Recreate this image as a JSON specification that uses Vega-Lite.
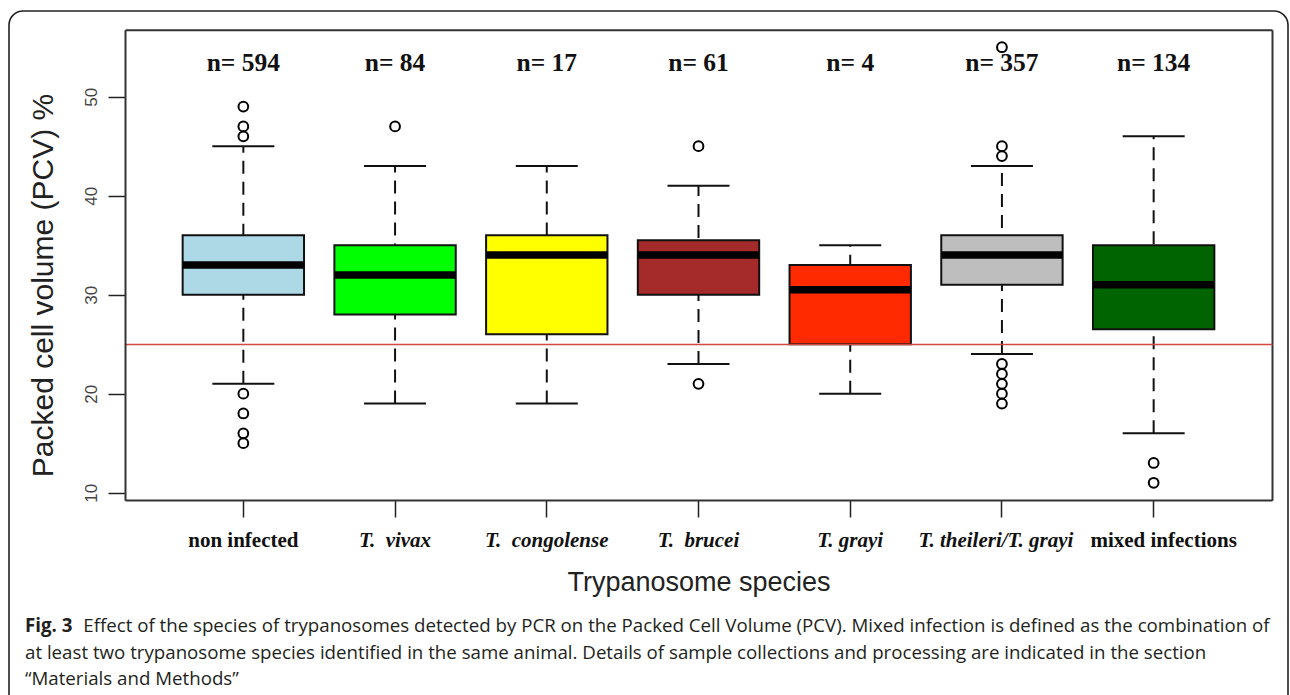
{
  "$schema": "https://vega.github.io/schema/vega-lite/v6.json",
  "width": 1279,
  "height": 709,
  "autosize": {"type": "none"},
  "padding": {"left": 9, "top": 11, "right": 2, "bottom": -25},
  "background": "white",
  "config": {
    "view": {"stroke": "#222", "strokeWidth": 1.6, "cornerRadius": 14},
    "font": "Liberation Sans"
  },
  "title": {
    "text": "Fig. 3",
    "subtitle": [
      "\u200b\u00a0\u00a0\u00a0\u00a0\u00a0\u00a0\u00a0\u00a0\u00a0\u00a0\u00a0\u00a0Effect of the species of trypanosomes detected by PCR on the Packed Cell Volume (PCV). Mixed infection is defined as the combination of",
      "at least two trypanosome species identified in the same animal. Details of sample collections and processing are indicated in the section",
      "\u201cMaterials and Methods\u201d"
    ],
    "orient": "bottom",
    "anchor": "start",
    "frame": "group",
    "offset": -103,
    "dx": 16,
    "font": "Open Sans",
    "fontSize": 18.7,
    "fontWeight": "bold",
    "color": "#231f20",
    "subtitleFont": "Open Sans",
    "subtitleFontSize": 18.7,
    "subtitleFontWeight": "normal",
    "subtitleColor": "#231f20",
    "subtitlePadding": -18.7,
    "subtitleLineHeight": 26.5
  },
  "datasets": {
    "boxes": [
      {"cat": "non infected", "lo": 21, "q1": 30, "med": 33, "q3": 36, "hi": 45, "nlabel": "n= 594"},
      {"cat": "T.\u00a0 vivax", "lo": 19, "q1": 28, "med": 32, "q3": 35, "hi": 43, "nlabel": "n= 84"},
      {"cat": "T.\u00a0 congolense", "lo": 19, "q1": 26, "med": 34, "q3": 36, "hi": 43, "nlabel": "n= 17"},
      {"cat": "T.\u00a0 brucei", "lo": 23, "q1": 30, "med": 34, "q3": 35.5, "hi": 41, "nlabel": "n= 61"},
      {"cat": "T. grayi", "lo": 20, "q1": 25, "med": 30.5, "q3": 33, "hi": 35, "nlabel": "n= 4"},
      {"cat": "T. theileri/T. grayi", "lo": 24, "q1": 31, "med": 34, "q3": 36, "hi": 43, "nlabel": "n= 357"},
      {"cat": "mixed infections", "lo": 16, "q1": 26.5, "med": 31, "q3": 35, "hi": 46, "nlabel": "n= 134"}
    ],
    "outliers": [
      {"cat": "non infected", "v": 49},
      {"cat": "non infected", "v": 47},
      {"cat": "non infected", "v": 46},
      {"cat": "non infected", "v": 20},
      {"cat": "non infected", "v": 18},
      {"cat": "non infected", "v": 16},
      {"cat": "non infected", "v": 15},
      {"cat": "T.\u00a0 vivax", "v": 47},
      {"cat": "T.\u00a0 brucei", "v": 45},
      {"cat": "T.\u00a0 brucei", "v": 21},
      {"cat": "T. theileri/T. grayi", "v": 55},
      {"cat": "T. theileri/T. grayi", "v": 45},
      {"cat": "T. theileri/T. grayi", "v": 44},
      {"cat": "T. theileri/T. grayi", "v": 23},
      {"cat": "T. theileri/T. grayi", "v": 22},
      {"cat": "T. theileri/T. grayi", "v": 21},
      {"cat": "T. theileri/T. grayi", "v": 20},
      {"cat": "T. theileri/T. grayi", "v": 19},
      {"cat": "mixed infections", "v": 13},
      {"cat": "mixed infections", "v": 11}
    ]
  },
  "resolve": {"axis": {"x": "independent", "y": "independent"}},
  "layer": [
    {
      "data": {"name": "boxes"},
      "mark": {"type": "rule", "strokeDash": [13, 8], "strokeWidth": 2, "color": "#111"},
      "encoding": {
        "x": {
          "field": "cat",
          "type": "nominal",
          "scale": {
            "domain": ["non infected", "T.\u00a0 vivax", "T.\u00a0 congolense", "T.\u00a0 brucei", "T. grayi", "T. theileri/T. grayi", "mixed infections"],
            "range": [116, 1263],
            "paddingInner": 0.2,
            "paddingOuter": 0.38
          },
          "axis": {
            "orient": "bottom",
            "offset": -220,
            "title": "Trypanosome species",
            "titleFont": "Liberation Sans",
            "titleFontSize": 27,
            "titleFontWeight": "normal",
            "titleColor": "#222",
            "titlePadding": 19.5,
            "labelFont": "Liberation Serif",
            "labelFontSize": 21,
            "labelFontWeight": "bold",
            "labelFontStyle": {"condition": {"test": "indexof(datum.value, 'T.') === 0", "value": "italic"}, "value": "normal"},
            "labelOffset": {"condition": [
              {"test": "datum.value === 'T. theileri/T. grayi'", "value": -6},
              {"test": "datum.value === 'mixed infections'", "value": 10}
            ], "value": 0},
            "labelColor": "#111",
            "labelAngle": 0,
            "labelBaseline": "alphabetic",
            "labelPadding": 29,
            "labelOverlap": false,
            "tickSize": 17,
            "tickWidth": 1.5,
            "tickColor": "#222",
            "domainColor": "#333",
            "domainWidth": 2
          }
        },
        "y": {
          "field": "lo",
          "type": "quantitative",
          "scale": {"domain": [9.24, 56.76], "range": [489.2, 18.8], "nice": false, "zero": false},
          "axis": {
            "orient": "left",
            "offset": -116,
            "values": [10, 20, 25, 30, 40, 50],
            "grid": true,
            "gridWidth": 1.6,
            "gridColor": {"condition": {"test": "datum.value === 25", "value": "#d2483f"}, "value": "transparent"},
            "tickOpacity": {"condition": {"test": "datum.value === 25", "value": 0}, "value": 1},
            "labelOpacity": {"condition": {"test": "datum.value === 25", "value": 0}, "value": 1},
            "zindex": 1,
            "title": "Packed cell volume (PCV) %",
            "titleFont": "Liberation Sans",
            "titleFontSize": 30,
            "titleFontWeight": "normal",
            "titleColor": "#222",
            "titlePadding": 24,
            "titleY": 274,
            "labelFont": "Liberation Sans",
            "labelFontSize": 17,
            "labelColor": "#444",
            "labelAngle": -90,
            "labelAlign": "center",
            "labelBaseline": "alphabetic",
            "labelPadding": 12,
            "labelFlush": false,
            "labelOverlap": false,
            "tickSize": 17,
            "tickWidth": 1.5,
            "tickColor": "#222",
            "domainColor": "#333",
            "domainWidth": 2
          }
        },
        "y2": {"field": "hi"}
      }
    },
    {
      "data": {"name": "boxes"},
      "mark": {"type": "tick", "size": 62, "thickness": 2, "color": "#111", "opacity": 1},
      "encoding": {
        "x": {
          "field": "cat",
          "type": "nominal",
          "axis": {"orient": "top", "offset": -18.8, "labels": false, "ticks": false, "title": null, "domain": true, "domainColor": "#333", "domainWidth": 2}
        },
        "y": {
          "field": "hi",
          "type": "quantitative",
          "axis": {"orient": "right", "offset": -16, "labels": false, "ticks": false, "title": null, "grid": false, "domain": true, "domainColor": "#333", "domainWidth": 2}
        }
      }
    },
    {
      "data": {"name": "boxes"},
      "mark": {"type": "tick", "size": 62, "thickness": 2, "color": "#111", "opacity": 1},
      "encoding": {
        "x": {"field": "cat", "type": "nominal", "axis": null},
        "y": {"field": "lo", "type": "quantitative", "axis": null}
      }
    },
    {
      "data": {"name": "boxes"},
      "mark": {"type": "bar", "stroke": "#111", "strokeWidth": 2, "opacity": 1},
      "encoding": {
        "x": {"field": "cat", "type": "nominal", "axis": null},
        "y": {"field": "q1", "type": "quantitative", "axis": null},
        "y2": {"field": "q3"},
        "color": {
          "field": "cat",
          "type": "nominal",
          "legend": null,
          "scale": {
            "domain": ["non infected", "T.\u00a0 vivax", "T.\u00a0 congolense", "T.\u00a0 brucei", "T. grayi", "T. theileri/T. grayi", "mixed infections"],
            "range": ["#add8e6", "#00ff00", "#ffff00", "#a52a2a", "#ff2a00", "#bebebe", "#006400"]
          }
        }
      }
    },
    {
      "data": {"name": "boxes"},
      "mark": {"type": "tick", "size": 121, "thickness": 7.5, "color": "#000", "opacity": 1},
      "encoding": {
        "x": {"field": "cat", "type": "nominal", "axis": null},
        "y": {"field": "med", "type": "quantitative", "axis": null}
      }
    },
    {
      "data": {"name": "outliers"},
      "mark": {"type": "point", "shape": "circle", "filled": false, "size": 95, "strokeWidth": 2, "color": "#000", "opacity": 1},
      "encoding": {
        "x": {"field": "cat", "type": "nominal", "axis": null},
        "y": {"field": "v", "type": "quantitative", "axis": null}
      }
    },
    {
      "data": {"name": "boxes"},
      "mark": {"type": "text", "font": "Liberation Serif", "fontSize": 25.5, "fontWeight": "bold", "color": "#111", "baseline": "middle", "align": "center"},
      "encoding": {
        "x": {"field": "cat", "type": "nominal", "axis": null},
        "y": {"datum": 53.4, "type": "quantitative", "axis": null},
        "text": {"field": "nlabel"}
      }
    }
  ]
}
